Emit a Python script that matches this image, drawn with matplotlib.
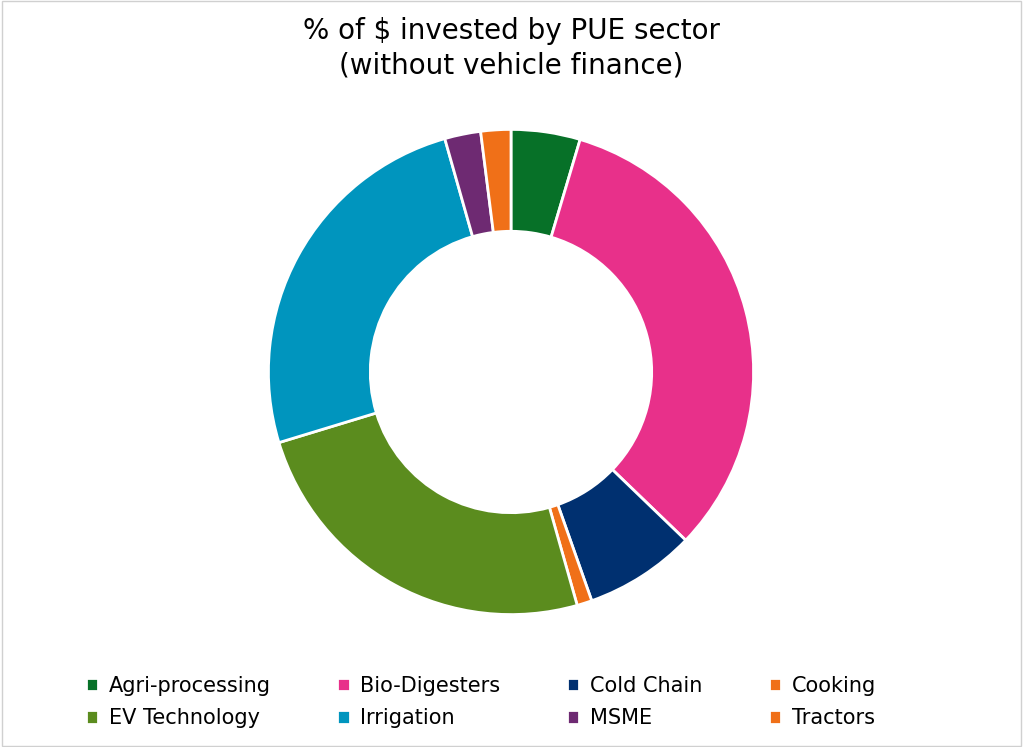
import matplotlib.pyplot as plt
from matplotlib.patches import Rectangle

sectors = ["Agri-processing", "Bio-Digesters", "Cold Chain", "Cooking",
           "EV Technology", "Irrigation", "MSME", "Tractors"]
shares = [4.6, 32.6, 7.4, 1.0, 24.7, 25.3, 2.4, 2.0]
colors = ["#077128", "#E8308A", "#003070", "#F07018",
          "#5B8C1E", "#0095BE", "#6E2A72", "#F07018"]

fig = plt.figure(figsize=(10.23, 7.47), dpi=100)
fig.patches.append(Rectangle((0.002, 0.002), 0.996, 0.996, transform=fig.transFigure,
                             fill=False, edgecolor="#D0D0D0", linewidth=1))

w = 490 / 1023
h = 490 / 747
ax = fig.add_axes([511 / 1023 - w / 2, (1 - 372 / 747) - h / 2, w, h])
wedges, _ = ax.pie(shares, colors=colors, startangle=90, counterclock=False,
                   radius=1.0, wedgeprops=dict(width=0.42, edgecolor="white", linewidth=2))
ax.set_xlim(-1.01, 1.01)
ax.set_ylim(-1.01, 1.01)
ax.set_aspect("equal")

fig.text(0.5, 0.935, "% of $ invested by PUE sector\n(without vehicle finance)",
         ha="center", va="center", fontsize=20, fontweight="medium", linespacing=1.3)

# legend is filled row by row in the reference
order = [0, 4, 1, 5, 2, 6, 3, 7]
fig.legend([wedges[i] for i in order], [sectors[i] for i in order],
           loc="lower center", ncol=4, bbox_to_anchor=(0.47, 0.0),
           frameon=False, fontsize=15, handlelength=0.6, handleheight=0.6,
           columnspacing=3.2, handletextpad=0.5, labelspacing=0.6)

fig.savefig("out.png", dpi=100)
